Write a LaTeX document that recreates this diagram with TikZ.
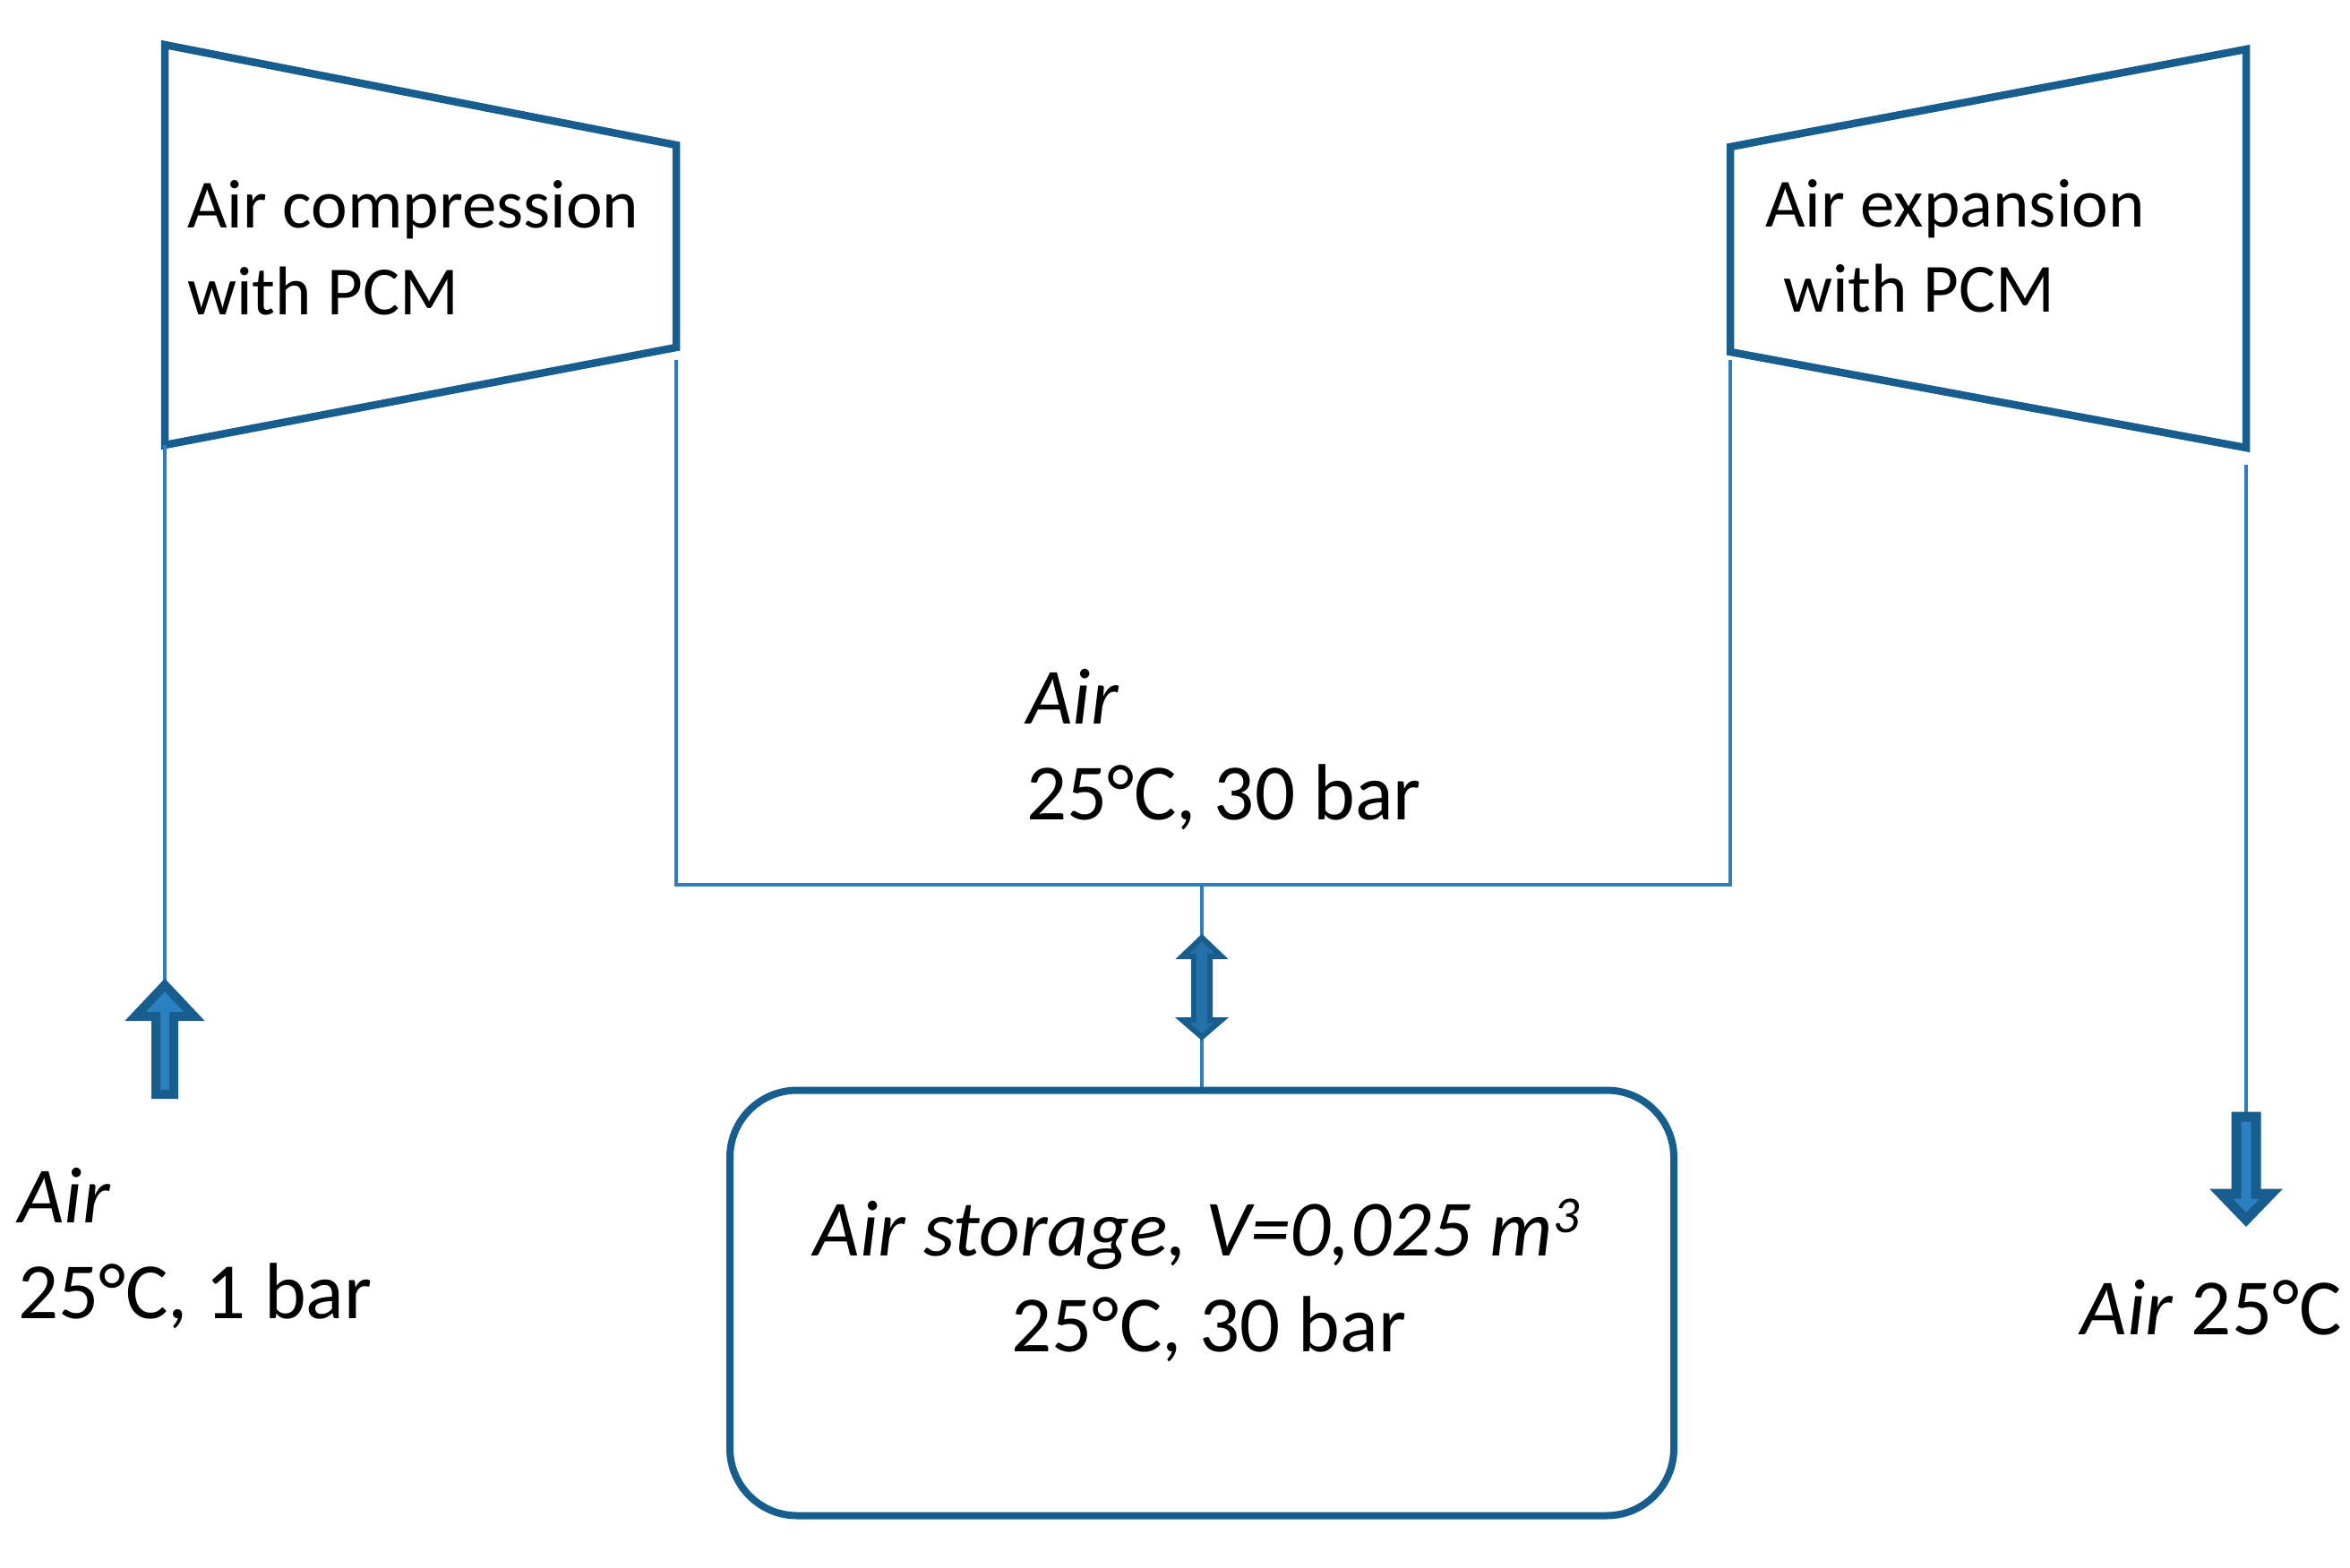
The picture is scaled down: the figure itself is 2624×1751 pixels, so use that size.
\documentclass[tikz,border=0pt]{standalone}
\usepackage{fontspec}
\setmainfont{Carlito}
\definecolor{dkblue}{RGB}{23,94,142}
\definecolor{ltblue}{RGB}{42,128,192}
\definecolor{midblue}{RGB}{38,112,170}
\begin{document}
\begin{tikzpicture}[x=1pt,y=-1pt,
  thick box/.style={draw=dkblue,line width=8.5pt,line join=miter},
  pipe/.style={draw=ltblue,line width=3.5pt},
  fat arrow/.style={draw=dkblue,fill=ltblue,line width=10pt,line join=miter},
  lbl/.style={inner sep=0pt,anchor=base west,font=\fontsize{89}{107}\selectfont},
  mlbl/.style={inner sep=0pt,anchor=base west,font=\fontsize{77}{97}\selectfont},
  clbl/.style={inner sep=0pt,anchor=base,font=\fontsize{89}{107}\selectfont}]
\useasboundingbox (0,0) rectangle (2624,1751);
\fill[white] (0,0) rectangle (2624,1751);
% compressor
\coordinate (c1) at (184,50);
\coordinate (c2) at (755,162);
\coordinate (c3) at (755,388);
\coordinate (c4) at (184,497);
\draw[thick box] (c1) -- (c2) -- (c3) -- (c4) -- cycle;
% expander
\coordinate (e1) at (1932,164);
\coordinate (e2) at (2508,55);
\coordinate (e3) at (2508,500);
\coordinate (e4) at (1932,393);
\draw[thick box] (e1) -- (e2) -- (e3) -- (e4) -- cycle;
% storage
\node[draw=dkblue,line width=8pt,rounded corners=75pt,minimum width=1054pt,minimum height=475pt,inner sep=0pt] (store) at (1342,1455) {};
% pipes
\coordinate (inl) at (184,1096);
\coordinate (co) at (755,402);
\coordinate (jl) at (755,988);
\coordinate (jn) at (1342,988);
\coordinate (jr) at (1932,988);
\coordinate (ei) at (1932,402);
\coordinate (eo) at (2508,519);
\coordinate (outl) at (2508,1242);
\draw[pipe] (c4) -- (inl);
\draw[pipe] (co) -- (jl) -- (jr) -- (ei);
\draw[pipe] (jn) -- (store.north);
\draw[pipe] (eo) -- (outl);
% inlet fat arrow (up)
\draw[fat arrow] (174,1222) -- (174,1135) -- (151,1135) -- (184,1100) -- (217,1135) -- (194,1135) -- (194,1222) -- cycle;
% outlet fat arrow (down)
\draw[fat arrow,line width=11pt] (2497,1247) -- (2519,1247) -- (2519,1333) -- (2536,1333) -- (2508,1362) -- (2480,1333) -- (2497,1333) -- cycle;
% double arrow
\draw[draw=dkblue,fill=midblue,line width=6pt,line join=miter]
  (1342,1047) -- (1364,1068) -- (1351,1068) -- (1351,1139) -- (1364,1139) -- (1342,1158)
  -- (1320,1139) -- (1333,1139) -- (1333,1068) -- (1320,1068) -- cycle;
% labels
\node[mlbl] (t1) at (209,254) {Air compression};
\node[mlbl] (t2) at (209,351) {with PCM};
\node[mlbl] (t3) at (1971,253) {Air expansion};
\node[mlbl] (t4) at (1991,348) {with PCM};
\node[lbl] (m1) at (1146,808) {\itshape Air};
\node[lbl] (m2) at (1146,915) {25°C, 30 bar};
\node[lbl] (l1) at (20,1365) {\itshape Air};
\node[lbl] (l2) at (20,1472) {25°C, 1 bar};
\node[clbl] (s1) at (1336,1402) {\itshape Air storage, V=0,025 m\raisebox{26pt}{\fontsize{58}{60}\selectfont 3}};
\node[clbl] (s2) at (1350,1509) {25°C, 30 bar};
\node[inner sep=0pt,anchor=base east,font=\fontsize{89}{107}\selectfont] (r1) at (2615,1490) {\textit{Air} 25°C};
\end{tikzpicture}
\end{document}
